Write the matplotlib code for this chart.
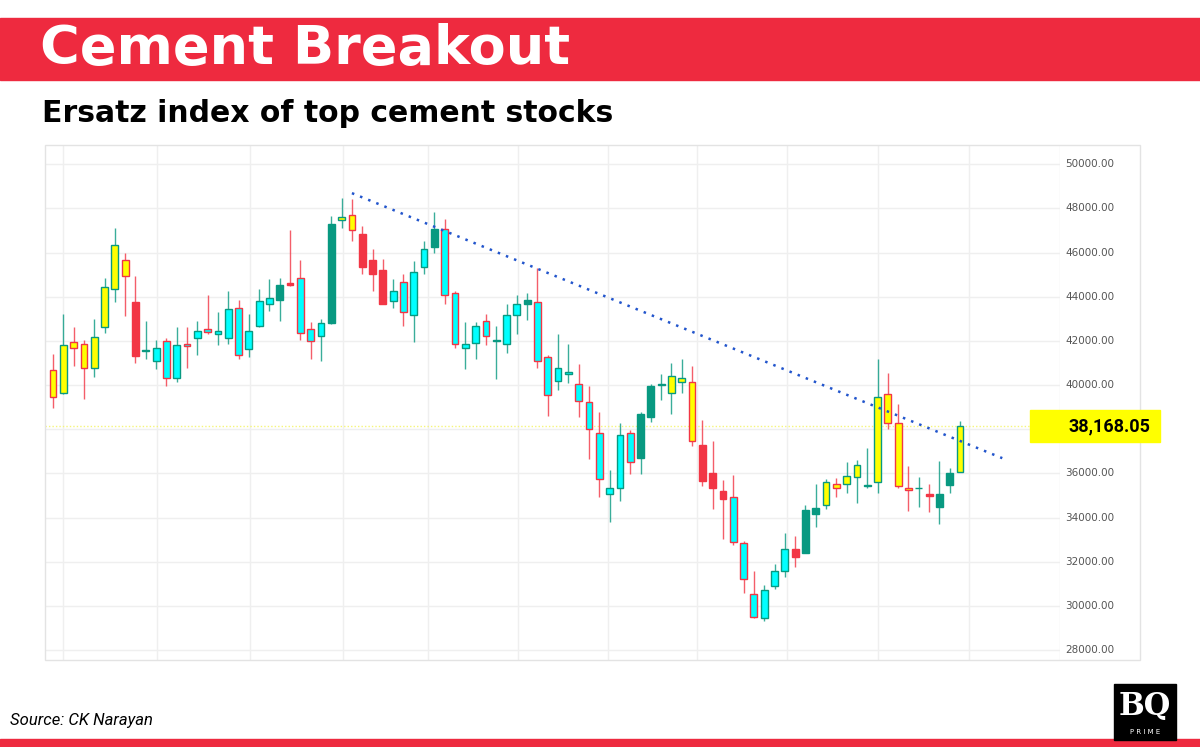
import matplotlib
matplotlib.use("Agg")
import matplotlib.pyplot as plt
from matplotlib.patches import Rectangle

opens = [40670,39660,41930,41880,40750,42610,44370,45650,43770,41520,41100,41990,40340,41850,42110,42560,42290,42140,43500,41640,
         42670,43660,43870,44630,44870,42520,42210,42820,47470,47690,46860,45650,45200,43810,44670,43160,45350,46230,47060,44150,
         41700,41910,42920,42000,41840,43160,43650,43740,41250,40180,40480,40070,39210,37850,35050,35360,37850,36710,38560,39980,
         39660,40130,40150,37280,36000,35210,34910,32870,30520,29430,30900,31580,32560,32380,34160,34590,35540,35500,35820,35410,
         35590,39590,38260,35330,35320,35080,34460,35480,36070]
highs = [41400,43240,42640,42030,42970,44870,47090,45960,44950,42890,42030,42110,42640,42640,42890,44070,43320,44250,43840,43210,
         44330,44780,44850,47040,45680,42860,43010,47650,48450,48420,47190,46180,45730,44820,45020,45610,46530,47840,47540,44250,
         42860,42860,43240,42670,43680,44070,44190,45310,41380,42330,41840,40950,39970,38760,36150,38290,37960,38790,40070,40520,
         40980,41160,40870,38410,37480,35700,35920,32950,31590,30940,31880,33280,33160,34560,35540,35730,35800,36530,36600,37130,
         41160,40550,39140,36340,35850,35510,36560,36240,38380]
lows = [38940,39590,40870,39350,40370,42370,43770,43120,40980,41160,40710,39950,40120,40780,41380,42290,41810,41840,41160,41280,
        42610,43350,42910,44480,42030,41200,41080,42760,47130,46510,45010,44270,43690,43470,42670,41960,45050,46000,43660,41700,
        40710,41160,41810,40270,41470,42330,42940,40780,38610,39770,40100,38560,36630,34940,33780,34760,35970,35950,38310,39320,
        38670,39620,37230,35420,34380,33050,32750,30600,29430,29330,30750,31320,31740,32380,33580,34410,34910,35120,34670,35320,
        35090,37990,35320,34310,34490,34260,33700,35120,36070]
closes = [39470,41810,41700,40750,42180,44450,46360,44950,41320,41580,41700,40300,41810,41780,42460,42380,42430,43440,41380,42470,
          43800,43920,44550,44550,42370,41990,42790,47310,47620,47010,45350,45050,43690,44250,43320,45100,46140,47060,44070,41880,
          41850,42670,42240,42030,43160,43650,43840,41100,39570,40750,40610,39290,38030,35730,35350,37760,36500,38680,39970,40040,
          40400,40340,37460,35670,35320,34820,32900,31240,29510,30720,31580,32570,32220,34340,34440,35620,35320,35890,36360,35470,
          39470,38260,35420,35260,35360,34970,35060,36040,38168.05]
fills = list("YYYYYYYYRTCCCCCCCCCCCCTRCCCTYYRRRCCCCTCCCCCTCCTCCCCCCCCCCTTTYYYRRRCCCCCCRTTYYYYTYYYYTRTTY")

ytick_vals = [28000,30000,32000,34000,36000,40000,42000,44000,46000,48000,50000]  # 38000 hidden behind price tag
grid_vals = [28000,30000,32000,34000,36000,38000,40000,42000,44000,46000,48000,50000]
last_price = 38168.05
trend_start = (29.0, 48690)
trend_end = (92.1, 36690)
vgrid_idx = [1.0,10.1,19.1,28.1,36.4,45.1,53.8,62.5,71.2,80.0,88.9,97.7]

FILL = {"Y":"#FFFF00","C":"#00FFFF","R":"#F23645","T":"#089981"}
RED = "#F23645"; GRN = "#089981"

fig = plt.figure(figsize=(12,7.47), dpi=100)
W,H = 1200,747
def fx(px): return px/W
def fy(py): return 1-py/H

fig.patches.append(Rectangle((0,fy(80)),1,fy(18)-fy(80),transform=fig.transFigure,color="#EE2A3F",zorder=0))
fig.text(fx(40),fy(49),"Cement Breakout",color="white",fontsize=39,fontweight="bold",family="DejaVu Sans",va="center")
fig.text(fx(42),fy(113),"Ersatz index of top cement stocks",color="black",fontsize=21.5,fontweight="bold",family="DejaVu Sans",va="center")
fig.patches.append(Rectangle((0,0),1,fy(739),transform=fig.transFigure,color="#EE2A3F",zorder=0))
fig.text(fx(10),fy(720),"Source: CK Narayan",fontsize=12,style="italic",family="Roboto",va="center")
fig.patches.append(Rectangle((fx(1114),fy(740)),fx(62),fy(684)-fy(740),transform=fig.transFigure,color="black",zorder=1))
fig.text(fx(1145),fy(706),"BQ",color="white",fontsize=22,fontweight="bold",family="DejaVu Serif",ha="center",va="center",zorder=2)
fig.text(fx(1145),fy(732),"P R I M E",color="white",fontsize=5,ha="center",va="center",zorder=2)

fig.patches.append(Rectangle((fx(45),fy(660)),fx(1140)-fx(45),fy(145)-fy(660),transform=fig.transFigure,
                             fill=False,edgecolor="#E3E3E3",lw=1,zorder=1))
ax = fig.add_axes([fx(45),fy(660),fx(1060)-fx(45),fy(145)-fy(660)])
ax.set_xlim(-0.78,97.7)
ax.set_ylim(27550,50870)
for s in ax.spines.values(): s.set_visible(False)
ax.set_xticks([]); ax.set_yticks([])
for v in grid_vals:
    ax.axhline(v,color="#EFEFEF",lw=1,zorder=0)
for v in ytick_vals:
    ax.text(1.005,(v-27550)/(50870-27550),f"{v:.2f}",transform=ax.transAxes,fontsize=7.5,color="#555555",va="center",ha="left")
for g in vgrid_idx:
    ax.axvline(g,color="#EFEFEF",lw=1,zorder=0)

for i,(o,h,l,c,f) in enumerate(zip(opens,highs,lows,closes,fills)):
    ec = GRN if c>=o else RED
    ax.vlines(i,l,h,color=ec,lw=1,zorder=2,alpha=0.8)
    bot = min(o,c); ht = max(abs(c-o),40)
    ax.add_patch(Rectangle((i-0.33,bot),0.66,ht,facecolor=FILL[f],edgecolor=ec,lw=1,zorder=3))

ax.axhline(last_price,color="#F5F57A",lw=1,ls=(0,(1,1.5)),zorder=1)
ax.plot([trend_start[0],trend_end[0]],[trend_start[1],trend_end[1]],color="#2255CC",lw=1.8,ls=(0,(1,2.5)),zorder=4)
fig.patches.append(Rectangle((fx(1030),fy(442)),fx(130),fy(410)-fy(442),transform=fig.transFigure,color="#FFFF00",zorder=2))
fig.text(fx(1150),fy(426),f"{last_price:,.2f}",fontsize=13,fontweight="bold",ha="right",va="center",family="Roboto",zorder=3)

fig.savefig("out.png",dpi=100)
